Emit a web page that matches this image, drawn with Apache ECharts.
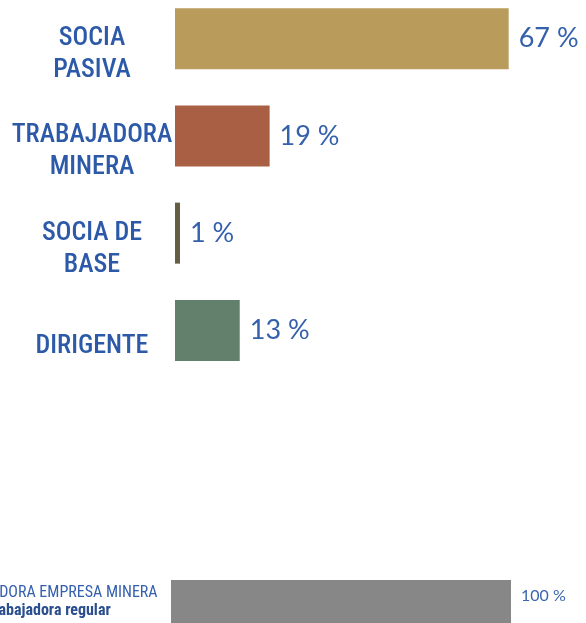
<!DOCTYPE html>
<html>
<head>
<meta charset="utf-8">
<script src="https://cdn.jsdelivr.net/npm/echarts@6/dist/echarts.min.js"></script>
<style>
  html, body { margin: 0; padding: 0; background: #ffffff; }
  #chart { width: 586px; height: 623px; }
</style>
</head>
<body>
<div id="chart"></div>
<script>
// Roles within the cooperative (share of women, %)
const roleCategories = ['SOCIA\nPASIVA', 'TRABAJADORA\nMINERA', 'SOCIA DE\nBASE', 'DIRIGENTE'];
const roleValues = [67, 19, 1, 13];
const roleColors = ['#b99b5b', '#a95f43', '#655e44', '#63806c'];

// Reference row: mining company workers
const companyCategories = ['{a|TRABAJADORA EMPRESA MINERA}\n{b|Trabajadora regular}'];
const companyValues = [100];

const condensed = '"Roboto Condensed", "DejaVu Sans Condensed", sans-serif';
const valueFont = 'Lato, "Open Sans", sans-serif';

const chart = echarts.init(document.getElementById('chart'), null, { renderer: 'canvas' });

chart.setOption({
  backgroundColor: '#ffffff',
  animation: false,
  grid: [
    { left: 175, top: -10, width: 498, height: 389, containLabel: false, outerBoundsMode: 'none' },
    { left: 171, top: 580, width: 340, height: 43, containLabel: false, outerBoundsMode: 'none' }
  ],
  xAxis: [
    { gridIndex: 0, type: 'value', min: 0, max: 100, show: false },
    { gridIndex: 1, type: 'value', min: 0, max: 100, show: false }
  ],
  yAxis: [
    {
      gridIndex: 0,
      type: 'category',
      inverse: true,
      data: roleCategories,
      axisLine: { show: false },
      axisTick: { show: false },
      splitLine: { show: false },
      axisLabel: {
        margin: 83,
        align: 'center',
        // leading blank line drops the role name a little below the bar centre
        formatter: v => '\n' + v,
        fontFamily: condensed,
        fontWeight: 500,
        fontSize: 26,
        lineHeight: 32,
        color: '#2d5aa8'
      }
    },
    {
      gridIndex: 1,
      type: 'category',
      data: companyCategories,
      axisLine: { show: false },
      axisTick: { show: false },
      splitLine: { show: false },
      axisLabel: {
        margin: 123,
        align: 'center',
        rich: {
          a: { fontFamily: condensed, fontWeight: 'normal', fontSize: 16, lineHeight: 18, color: '#3560ad' },
          b: { fontFamily: condensed, fontWeight: 'bold', fontSize: 16, lineHeight: 18, color: '#2a4e8e' }
        }
      }
    }
  ],
  series: [
    {
      type: 'bar',
      xAxisIndex: 0,
      yAxisIndex: 0,
      barWidth: 61,
      data: roleValues.map((v, i) => ({ value: v, itemStyle: { color: roleColors[i] } })),
      label: {
        show: true,
        position: 'right',
        distance: 10,
        formatter: p => p.value + ' %',
        fontFamily: valueFont,
        fontSize: 27,
        color: '#3460ac'
      }
    },
    {
      type: 'bar',
      xAxisIndex: 1,
      yAxisIndex: 1,
      barWidth: 43,
      data: companyValues,
      itemStyle: { color: '#878787' },
      label: {
        show: true,
        position: 'right',
        distance: 10,
        offset: [0, -6],
        formatter: p => p.value + ' %',
        fontFamily: valueFont,
        fontSize: 16,
        color: '#3a66b0'
      }
    }
  ]
});
</script>
</body>
</html>
